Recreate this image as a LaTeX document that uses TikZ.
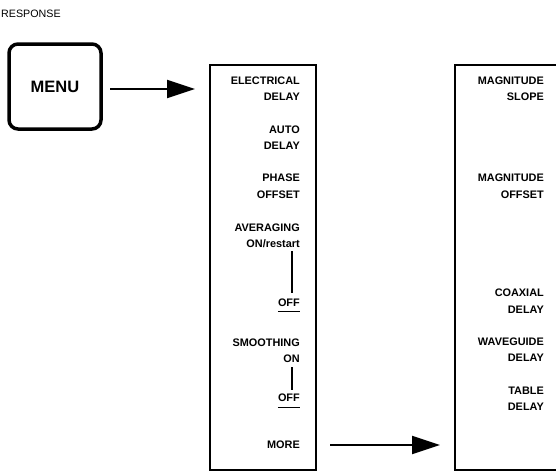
\documentclass[tikz,border=0pt]{standalone}
\usepackage{fontspec}
\setmainfont{Liberation Sans}
\usetikzlibrary{arrows.meta}
\begin{document}
\begin{tikzpicture}[x=1pt,y=-1pt,
  lbl/.style={anchor=east,inner sep=0pt,text height=7.9pt,text depth=0pt,font=\fontsize{10.9}{12}\selectfont\bfseries},
  arr/.style={line width=2pt,-{Triangle[length=28pt,width=18pt]}},
  panel/.style={draw,line width=1.4pt,inner sep=0pt}]
\useasboundingbox (0,0) rectangle (556,472);
\node[anchor=west,inner sep=0pt,text height=7.7pt,text depth=0pt,font=\fontsize{10.7}{12}\selectfont] (resp) at (1,14) {RESPONSE};
\node[draw,line width=3.5pt,rounded corners=9pt,minimum width=92pt,minimum height=85pt,inner sep=0pt,font=\fontsize{16.5}{18}\selectfont\bfseries] (menu) at (55,86.5) {MENU};
\node[panel,minimum width=106pt,minimum height=405pt] (box1) at (263,267.5) {};
\coordinate (b2tl) at (455,65);
\coordinate (b2bl) at (455,470);
\coordinate (b2tr) at (556,65);
\coordinate (b2br) at (556,470);
\draw[line width=1.4pt] (b2tr) -- (b2tl) -- (b2bl) -- (b2br);
\coordinate (a1s) at (110,89);
\coordinate (a1e) at (195,89);
\draw[arr] (a1s) -- (a1e);
% box 1 labels
\node[lbl] (l1) at (300,81) {ELECTRICAL};
\node[lbl] (l2) at (300,97) {DELAY};
\node[lbl] (l3) at (300,130) {AUTO};
\node[lbl] (l4) at (300,146) {DELAY};
\node[lbl] (l5) at (300,178) {PHASE};
\node[lbl] (l6) at (300,195) {OFFSET};
\node[lbl] (l7) at (300,228) {AVERAGING};
\node[lbl] (l8) at (300,244) {ON/restart};
\node[lbl] (l9) at (300,303) {OFF};
\node[lbl] (l10) at (300,343) {SMOOTHING};
\node[lbl] (l11) at (300,359) {ON};
\node[lbl] (l12) at (300,398) {OFF};
\node[lbl] (l13) at (300,445) {MORE};
\coordinate (v1a) at (292,251);
\coordinate (v1b) at (292,293);
\coordinate (v2a) at (292,367);
\coordinate (v2b) at (292,390);
\draw[line width=1.2pt] (v1a) -- (v1b);
\draw[line width=1.2pt] (v2a) -- (v2b);
\draw[line width=1.2pt] ([yshift=-4pt]l9.south west) -- ([yshift=-4pt]l9.south east);
\draw[line width=1.2pt] ([yshift=-5pt]l12.south west) -- ([yshift=-5pt]l12.south east);
\coordinate (a2s) at (330,445);
\coordinate (a2e) at (440,445);
\draw[arr] (a2s) -- (a2e);
% box 2 labels
\node[lbl] (m1) at (544,81) {MAGNITUDE};
\node[lbl] (m2) at (544,97) {SLOPE};
\node[lbl] (m3) at (544,178) {MAGNITUDE};
\node[lbl] (m4) at (544,195) {OFFSET};
\node[lbl] (m5) at (544,293) {COAXIAL};
\node[lbl] (m6) at (544,310) {DELAY};
\node[lbl] (m7) at (544,342) {WAVEGUIDE};
\node[lbl] (m8) at (544,358) {DELAY};
\node[lbl] (m9) at (544,391) {TABLE};
\node[lbl] (m10) at (544,407) {DELAY};
\end{tikzpicture}
\end{document}
